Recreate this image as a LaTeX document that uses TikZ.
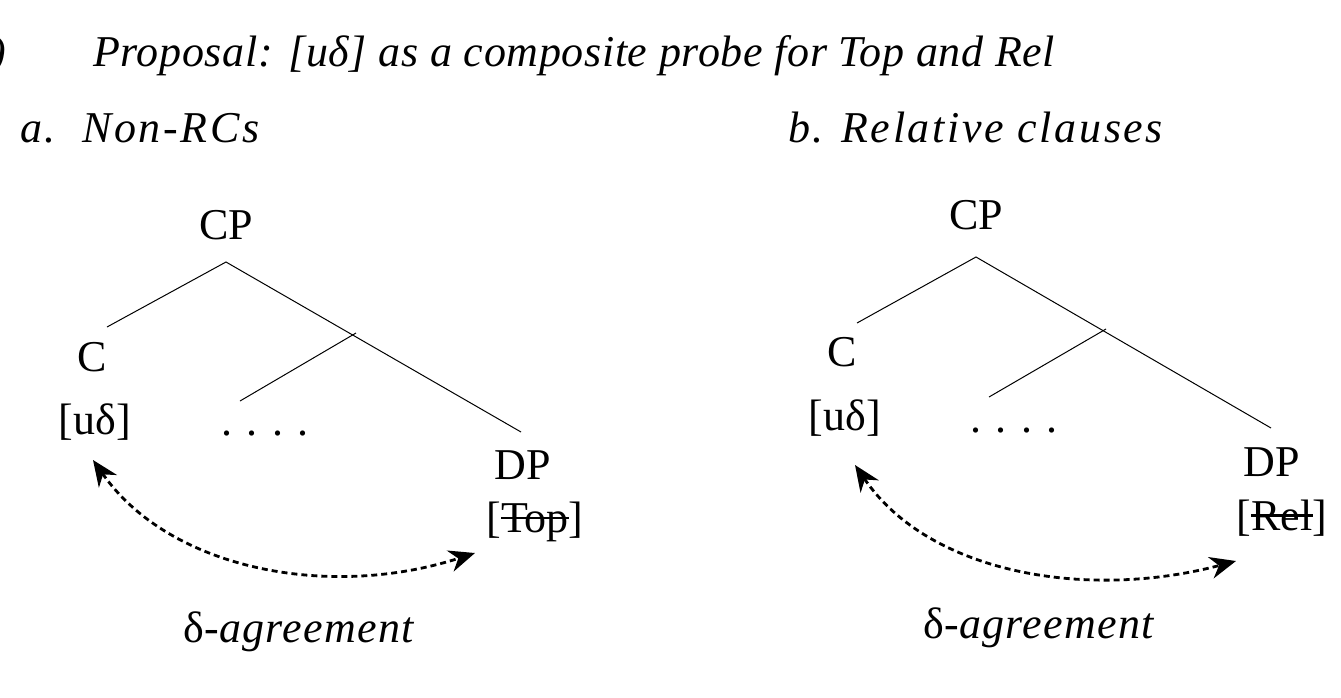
\documentclass[tikz,border=0pt]{standalone}
\usepackage{fontspec}
\setmainfont{Liberation Serif}
\usetikzlibrary{arrows.meta}
\newcommand\strk[1]{\setbox0\hbox{#1}\rlap{\rule[0.3em]{\wd0}{0.06em}}\box0}
\begin{document}
\begin{tikzpicture}[x=1pt,y=-1pt,
  lbl/.style={font=\fontsize{44}{50}\selectfont,inner sep=0pt},
  ttl/.style={font=\fontsize{44}{50}\selectfont\itshape\addfontfeatures{LetterSpace=6},inner sep=0pt,anchor=base west},
  br/.style={line width=1pt},
  agr/.style={dash pattern=on 6pt off 4pt,line width=2.8pt,{Stealth[length=26pt,width=22pt]}-{Stealth[length=26pt,width=22pt]}}]
\useasboundingbox (0,0) rectangle (1341,697);
\begin{scope}
\clip (0,0) rectangle (1341,697);
\node[ttl] (num) at (-9,66) {)};
\end{scope}
\node[ttl,font=\fontsize{44}{50}\selectfont\itshape\addfontfeatures{LetterSpace=1.5}] (t0) at (93,66) {Proposal: [uδ] as a composite probe for Top and Rel};
\node[ttl] (ha) at (20,142) {a.\hspace{0.6em}Non-RCs};
\node[ttl] (hb) at (788,142) {b.\hspace{0.4em}Relative clauses};
% left tree
\node[lbl] (cp1) at (226,225) {CP};
\coordinate (a1) at (226,262);
\coordinate (c1e) at (107,327);
\coordinate (d1e) at (521,432);
\coordinate (m1) at (356,333);
\coordinate (b1e) at (240,401);
\draw[br] (c1e) -- (a1) -- (d1e);
\draw[br] (m1) -- (b1e);
\node[lbl] (c1) at (92,357) {C};
\node[lbl] (u1) at (95,422) {[uδ]};
\node[lbl] (dots1) at (265,434) {. . . .};
\node[lbl] (dp1) at (523,465) {DP};
\node[lbl] (f1) at (535,522) {[\strk{Top}]};
\coordinate (s1) at (93,460);
\coordinate (e1) at (475,553);
\draw[agr] (s1) .. controls (170,570) and (330,600) .. (e1);
\node[lbl] (ag1) at (300,632) {δ-\textit{\addfontfeatures{LetterSpace=3}agreement}};
% right tree
\node[lbl] (cp2) at (976,215) {CP};
\coordinate (a2) at (976,257);
\coordinate (c2e) at (857,323);
\coordinate (d2e) at (1271,428);
\coordinate (m2) at (1106,329);
\coordinate (b2e) at (989,397);
\draw[br] (c2e) -- (a2) -- (d2e);
\draw[br] (m2) -- (b2e);
\node[lbl] (c2) at (842,352) {C};
\node[lbl] (u2) at (845,418) {[uδ]};
\node[lbl] (dots2) at (1014,431) {. . . .};
\node[lbl] (dp2) at (1272,462) {DP};
\node[lbl] (f2) at (1282,518) {[\strk{Rel}]};
\coordinate (s2) at (855,465);
\coordinate (e2) at (1236,561);
\draw[agr] (s2) .. controls (930,575) and (1090,600) .. (e2);
\node[lbl] (ag2) at (1040,628) {δ-\textit{\addfontfeatures{LetterSpace=3}agreement}};
\end{tikzpicture}
\end{document}
